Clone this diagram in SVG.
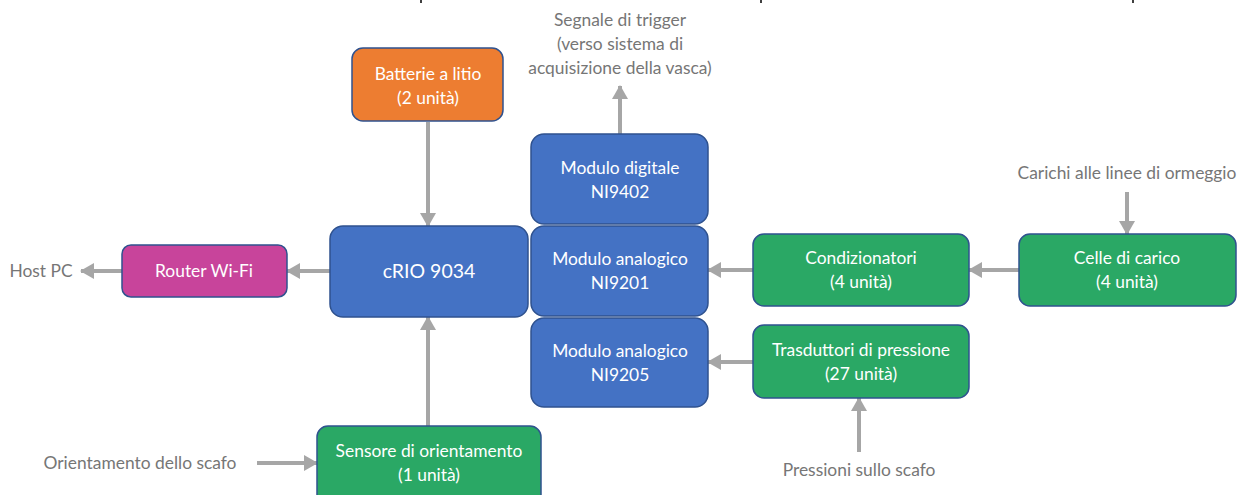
<svg xmlns="http://www.w3.org/2000/svg" width="1245" height="495" viewBox="0 0 1245 495">
<style>
.box{stroke:#2F528F;stroke-width:1.5}
.blue{fill:#4472C4}
.orange{fill:#ED7D31}
.green{fill:#2AA865}
.magenta{fill:#C8449B}
.t{font-family:Lato,"Liberation Sans",sans-serif;font-size:17.4px;fill:#FFFFFF;text-anchor:middle}
.big{font-size:19.5px}
.g{font-family:Lato,"Liberation Sans",sans-serif;font-size:17.4px;fill:#767676;text-anchor:middle}
.c{stroke:#A6A6A6;stroke-width:4;fill:none;marker-end:url(#ah)}
.tick{stroke:#000;stroke-width:1.5}
</style>
<defs>
<marker id="ah" markerUnits="userSpaceOnUse" markerWidth="16" markerHeight="16" viewBox="0 0 14 16" refX="13" refY="8" orient="auto">
<path d="M0,0 L14,8 L0,16 Z" fill="#A6A6A6"/>
</marker>
</defs>
<rect width="1245" height="495" fill="#FFFFFF"/>
<g id="ticks">
<line class="tick" x1="421" y1="0" x2="421" y2="3"/>
<line class="tick" x1="761" y1="0" x2="761" y2="3"/>
<line class="tick" x1="1133" y1="0" x2="1133" y2="3"/>
</g>
<g id="connectors">
<line class="c" x1="428" y1="122" x2="428" y2="226"/>
<line class="c" x1="330" y1="271" x2="287" y2="271"/>
<line class="c" x1="122" y1="271" x2="81" y2="271"/>
<line class="c" x1="620" y1="134" x2="620" y2="86"/>
<line class="c" x1="753" y1="270" x2="708" y2="270"/>
<line class="c" x1="1019" y1="270" x2="969" y2="270"/>
<line class="c" x1="753" y1="362" x2="708" y2="362"/>
<line class="c" x1="859" y1="452" x2="859" y2="398"/>
<line class="c" x1="428" y1="426" x2="428" y2="317"/>
<line class="c" x1="257" y1="463" x2="317" y2="463"/>
<line class="c" x1="1127" y1="192" x2="1127" y2="234"/>
</g>
<g id="batterie">
<rect class="box orange" x="352" y="48" width="151" height="73" rx="11"/>
<text class="t" x="428" y="80">Batterie a litio</text>
<text class="t" x="428" y="104">(2 unità)</text>
</g>
<g id="crio">
<rect class="box blue" x="330" y="226" width="198" height="91" rx="13"/>
<text class="t big" x="429" y="278">cRIO 9034</text>
</g>
<g id="ni9402">
<rect class="box blue" x="531" y="134" width="177" height="90" rx="13"/>
<text class="t" x="620" y="174">Modulo digitale</text>
<text class="t" x="620" y="198">NI9402</text>
</g>
<g id="ni9201">
<rect class="box blue" x="531" y="226" width="177" height="90" rx="13"/>
<text class="t" x="620" y="265">Modulo analogico</text>
<text class="t" x="620" y="289">NI9201</text>
</g>
<g id="ni9205">
<rect class="box blue" x="531" y="318" width="177" height="89" rx="13"/>
<text class="t" x="620" y="357">Modulo analogico</text>
<text class="t" x="620" y="381">NI9205</text>
</g>
<g id="router">
<rect class="box magenta" x="122" y="245" width="165" height="52" rx="9"/>
<text class="t" x="204" y="277">Router Wi-Fi</text>
</g>
<g id="condizionatori">
<rect class="box green" x="753" y="234" width="216" height="72" rx="11"/>
<text class="t" x="861" y="264">Condizionatori</text>
<text class="t" x="861" y="288">(4 unità)</text>
</g>
<g id="celle">
<rect class="box green" x="1019" y="234" width="217" height="72" rx="11"/>
<text class="t" x="1127" y="264">Celle di carico</text>
<text class="t" x="1127" y="288">(4 unità)</text>
</g>
<g id="trasduttori">
<rect class="box green" x="753" y="325" width="216" height="73" rx="11"/>
<text class="t" x="861" y="356">Trasduttori di pressione</text>
<text class="t" x="861" y="380">(27 unità)</text>
</g>
<g id="sensore">
<rect class="box green" x="317" y="426" width="224" height="80" rx="11"/>
<text class="t" x="429" y="457">Sensore di orientamento</text>
<text class="t" x="429" y="481">(1 unità)</text>
</g>
<g id="labels">
<text class="g" x="41" y="277">Host PC</text>
<text class="g" x="620" y="26">Segnale di trigger</text>
<text class="g" x="620" y="50">(verso sistema di</text>
<text class="g" x="620" y="74">acquisizione della vasca)</text>
<text class="g" x="1127" y="179">Carichi alle linee di ormeggio</text>
<text class="g" x="859" y="476">Pressioni sullo scafo</text>
<text class="g" x="140" y="469">Orientamento dello scafo</text>
</g>
</svg>
